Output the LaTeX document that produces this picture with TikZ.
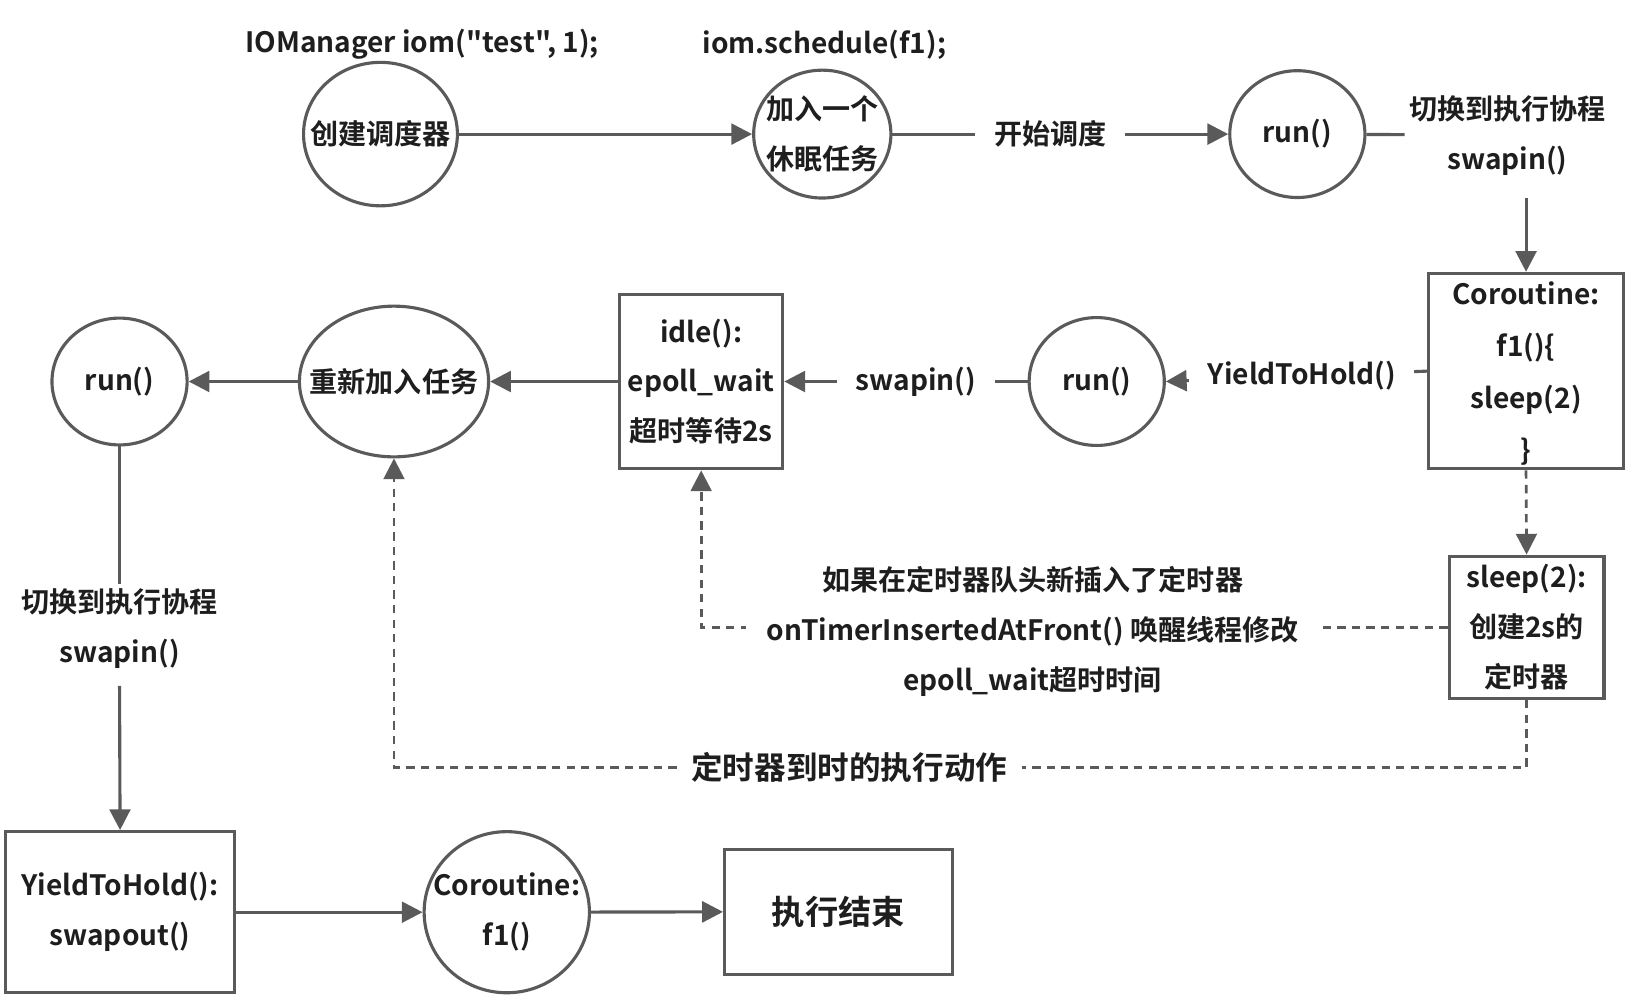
\documentclass[tikz,border=0pt]{standalone}
\usepackage{fontspec}
\setmainfont{Noto Sans CJK SC}[BoldFont={Noto Sans CJK SC Bold}, Ligatures=TeXOff]
\usepackage{xcolor}
\usepackage{tikz}
\usetikzlibrary{shapes.geometric,arrows.meta}

\definecolor{linegray}{HTML}{5A5A5A}
\definecolor{txtgray}{HTML}{1E1E1E}

\begin{document}
\begin{tikzpicture}[x=0.5pt,y=-0.5pt,
	every node/.style={font=\bfseries\fontsize{13.5}{24}\selectfont, text=txtgray},
	every label/.style={align=center},
	ell/.style={ellipse, draw=linegray, line width=1.5pt, inner sep=0pt},
	blk/.style={rectangle, draw=linegray, line width=1.5pt, align=center, inner sep=0pt},
	lab/.style={align=center, fill=white, inner xsep=9pt, inner ysep=2pt},
	arr/.style={draw=linegray, line width=1.5pt, -{Triangle[length=10pt,width=10pt]}},
	ln/.style={draw=linegray, line width=1.5pt},
	dsh/.style={draw=linegray, line width=1.3pt, dash pattern=on 4pt off 3pt}
]

\useasboundingbox (0,0) rectangle (1568,957);

% top row
\node (t1) at (406,43) {IOManager iom("test", 1);};
\node (t2) at (793,43) {iom.schedule(f1);};

\node[ell, minimum width=74pt, minimum height=69pt, label=center:创建调度器] (mk) at (366,129) {};
\node[ell, minimum width=66pt, minimum height=61.5pt, label=center:{加入一个\\休眠任务}] (addt) at (791,129) {};
\node[ell, minimum width=65pt, minimum height=61pt, label=center:run()] (run1) at (1248,129) {};
\node[align=center, inner sep=2pt] (sw1) at (1450,130) {切换到执行协程\\swapin()};

% middle row
\node[blk, minimum width=93.5pt, minimum height=94pt, font=\bfseries\fontsize{13.5}{25}\selectfont, text depth=-1pt] (cor) at (1468,357) {Coroutine:\\f1()\{\\sleep(2)\\\}};
\node[ell, minimum width=65pt, minimum height=61.5pt, label=center:run()] (run2) at (1055,367) {};
\node[blk, minimum width=78.5pt, minimum height=84pt] (idle) at (674.5,367) {idle():\\epoll\_wait\\超时等待2s};
\node[ell, minimum width=91pt, minimum height=72.5pt, label=center:重新加入任务] (readd) at (379,367) {};
\node[ell, minimum width=65pt, minimum height=61pt, label=center:run()] (run3) at (115,367) {};

\node[blk, minimum width=74.5pt, minimum height=68.5pt] (slp) at (1468.5,603.5) {sleep(2):\\创建2s的\\定时器};
\node[align=center, inner sep=2pt] (sw2) at (115,605) {切换到执行协程\\swapin()};

% bottom row
\node[blk, minimum width=110.5pt, minimum height=77.5pt] (yth) at (115.5,877.5) {YieldToHold():\\swapout()};
\node[ell, minimum width=79.5pt, minimum height=77.5pt, label=center:{Coroutine:\\f1()}] (cor2) at (487.5,877.5) {};
\node[blk, minimum width=109.5pt, minimum height=60pt, font=\bfseries\fontsize{16}{20}\selectfont] (done) at (806.5,877) {执行结束};

% solid connectors
\draw[arr] (mk) -- (addt);
\draw[arr] (addt) -- node[lab, pos=0.47] (go) {开始调度} (run1);
\draw[ln] (run1) -- (sw1);
\draw[arr] (sw1.south -| cor.north) ++(0,18) -- (cor.north);
\draw[arr] (cor.west) -- node[lab, pos=0.48] (yl) {YieldToHold()} (run2.east);
\draw[arr] (run2) -- node[lab, pos=0.46] (si) {swapin()} (idle);
\draw[arr] (idle) -- (readd);
\draw[arr] (readd) -- (run3);
\draw[ln] (run3) -- (sw2);
\draw[arr] (sw2.south) ++(0,12) -- (yth.north);
\draw[arr] (yth) -- (cor2);
\draw[arr] (cor2) -- (done);

% dashed connectors
\draw[dsh, -{Triangle[length=10pt,width=10pt]}] (cor.south) -- (slp.north);
\draw[dsh, -{Triangle[length=10pt,width=10pt]}] (slp.west) -- node[lab, pos=0.556, inner xsep=10pt, yshift=-2pt] (wake) {如果在定时器队头新插入了定时器\\onTimerInsertedAtFront() 唤醒线程修改\\epoll\_wait超时时间} (slp.west -| idle.south) -- (idle.south);
\coordinate (c1) at (slp.south |- 0,738);
\draw[dsh, -{Triangle[length=10pt,width=10pt]}] (slp.south) -- (c1) -- node[lab, pos=0.598, inner xsep=7pt, font=\bfseries\fontsize{15.2}{20}\selectfont] (tu) {定时器到时的执行动作} (c1 -| readd.south) -- (readd.south);

\end{tikzpicture}
\end{document}
